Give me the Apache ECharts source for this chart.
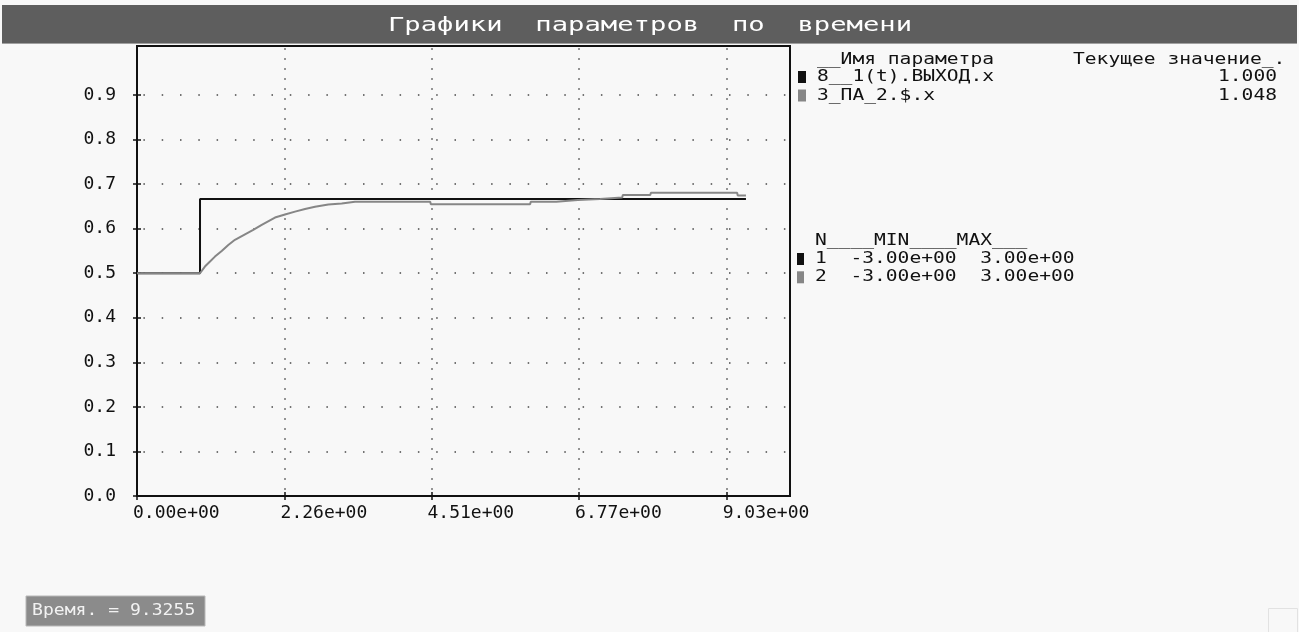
<!DOCTYPE html>
<html>
<head>
<meta charset="utf-8">
<script src="https://cdn.jsdelivr.net/npm/echarts@6/dist/echarts.min.js"></script>
<style>
  html, body { margin: 0; padding: 0; background: #f8f8f8; }
  #chart { width: 1299px; height: 632px; }
</style>
</head>
<body>
<div id="chart"></div>
<script>
// Tick positions on both axes
const timeTicks = [0, 2.26, 4.51, 6.77, 9.03];
const valueTicks = [0, 0.1, 0.2, 0.3, 0.4, 0.5, 0.6, 0.7, 0.8, 0.9];

// Parameter table
const paramNames = ['8__1(t).ВЫХОД.x', '3_ПА_2.$.x'];
const currentValues = [1.000, 1.048];
const rangeMin = [-3, -3];
const rangeMax = [3, 3];
const endTime = 9.3255;

// 8__1(t).ВЫХОД.x : unit step
const outTime  = [0, 0.965, 0.965, 9.3255];
const outValue = [0, 0,     1,     1];

// 3_ПА_2.$.x : response to the step
const paTime  = [0, 0.965, 1.04, 1.118, 1.194, 1.297, 1.398, 1.50, 1.654, 1.78, 1.91, 2.113, 2.266, 2.42,
                 2.573, 2.726, 2.93, 3.135, 3.338, 4.49, 4.50, 6.02, 6.03, 6.42, 6.43, 6.75, 6.76,
                 7.09, 7.10, 7.43, 7.44, 7.86, 7.87, 9.19, 9.20, 9.3255];
const paValue = [0, 0, 0.09, 0.157, 0.224, 0.30, 0.38, 0.45, 0.524, 0.583, 0.65, 0.75, 0.79, 0.83,
                 0.866, 0.896, 0.927, 0.94, 0.964, 0.964, 0.929, 0.929, 0.964, 0.964, 0.987, 0.987, 1.0,
                 1.0, 1.02, 1.02, 1.054, 1.054, 1.085, 1.085, 1.048, 1.048];

const MONO = '"DejaVu Sans Mono", "Liberation Mono", monospace';

// number in the form 2.26e+00
function sci(v) {
  const s = Number(v).toExponential(2);
  const i = s.indexOf('e');
  const exp = s.slice(i + 1);
  const sign = exp[0] === '-' ? '-' : '+';
  return s.slice(0, i) + 'e' + sign + exp.replace(/^[+-]/, '').padStart(2, '0');
}

// each parameter is drawn scaled into its [MIN, MAX] range
function normalize(times, values, k) {
  const span = rangeMax[k] - rangeMin[k];
  return times.map((t, i) => [t, (values[i] - rangeMin[k]) / span]);
}

const lineColors = ['#111111', '#868686'];

function label(x, y, text, opts) {
  opts = opts || {};
  return {
    type: 'text', x: x, y: y, scaleX: opts.scaleX || 1.225, z: 10, silent: true,
    style: {
      text: text,
      font: opts.font || ('16px ' + MONO),
      fill: opts.fill || '#111',
      align: opts.align || 'left', textAlign: opts.align || 'left',
      verticalAlign: 'middle', textVerticalAlign: 'middle'
    }
  };
}

const graphics = [
  // title bar
  { type: 'rect', shape: { x: 2, y: 5, width: 1295, height: 39 }, style: { fill: '#5e5e5e' }, z: 5, silent: true },
  { type: 'rect', shape: { x: 2, y: 43, width: 1295, height: 1 }, style: { fill: '#a0a0a0' }, z: 5, silent: true },
  label(650, 26, 'Графики  параметров  по  времени',
        { font: '20px ' + MONO, fill: '#ffffff', align: 'center', scaleX: 1.36 }),

  // current values table
  label(817, 60, '__Имя параметра'),
  label(1073, 60, 'Текущее значение_.'),

  // min / max table
  label(815, 241, 'N____MIN____MAX___'),

  // time readout
  { type: 'rect', shape: { x: 26, y: 596, width: 179, height: 30 },
    style: { fill: '#8b8b8b', stroke: '#b8b8b8', lineWidth: 1 }, z: 5, silent: true },
  label(32, 611, 'Время. = ' + endTime.toFixed(4), { fill: '#f2f2f2', scaleX: 1.13 }),

  { type: 'rect', shape: { x: 1268.5, y: 608.5, width: 29, height: 24 },
    style: { fill: 'none', stroke: '#e2e2e2', lineWidth: 1 }, z: 5, silent: true }
];

paramNames.forEach((name, k) => {
  const y1 = 77 + k * 18.5;
  graphics.push({ type: 'rect', shape: { x: 798, y: y1 - 6, width: 8, height: 12 },
                  style: { fill: lineColors[k] }, z: 10, silent: true });
  graphics.push(label(817, y1, name));
  graphics.push(label(1277, y1, currentValues[k].toFixed(3), { align: 'right' }));

  const y2 = 259 + k * 18.3;
  graphics.push({ type: 'rect', shape: { x: 797, y: y2 - 6, width: 7, height: 12 },
                  style: { fill: lineColors[k] }, z: 10, silent: true });
  graphics.push(label(815, y2, (k + 1) + '  ' + sci(rangeMin[k]) + '  ' + sci(rangeMax[k])));
});

const axisLineStyle = { color: '#111', width: 2 };
const tickStyle = { color: '#111', width: 1.5 };

const chart = echarts.init(document.getElementById('chart'), null, { renderer: 'canvas' });
chart.setOption({
  animation: false,
  backgroundColor: '#f8f8f8',
  grid: {
    left: 137, top: 46, width: 653, height: 450,
    show: true, borderColor: '#111', borderWidth: 2, backgroundColor: 'transparent',
    containLabel: false, outerBoundsMode: 'none'
  },
  xAxis: [
    {
      type: 'value', min: 0, max: 10.0, position: 'bottom',
      axisLine: { show: true, lineStyle: axisLineStyle },
      axisTick: { show: true, customValues: timeTicks, length: 4, lineStyle: tickStyle },
      axisLabel: {
        show: true, customValues: timeTicks, formatter: sci, margin: 8, align: 'left',
        color: '#111', fontFamily: MONO, fontSize: 18, padding: [0, 0, 0, -4]
      },
      splitLine: { show: true, lineStyle: { color: '#474747', width: 1.5, type: [1.5, 8.5], dashOffset: 7.7 } }
    },
    {
      type: 'value', min: 0, max: 10.0, position: 'bottom',
      axisLine: { show: false },
      axisTick: { show: true, inside: true, customValues: timeTicks, length: 4, lineStyle: tickStyle },
      axisLabel: { show: false },
      splitLine: { show: false }
    }
  ],
  yAxis: [
    {
      type: 'value', min: 0, max: 1.01, position: 'left',
      axisLine: { show: true, lineStyle: axisLineStyle },
      axisTick: { show: true, customValues: valueTicks, length: 4, lineStyle: tickStyle },
      axisLabel: {
        show: true, customValues: valueTicks, formatter: v => v.toFixed(1), margin: 21,
        color: '#111', fontFamily: MONO, fontSize: 18
      },
      splitLine: { show: true, lineStyle: { color: '#474747', width: 1.5, type: [1.5, 16.8], dashOffset: 11.9 } }
    },
    {
      type: 'value', min: 0, max: 1.01, position: 'left',
      axisLine: { show: false },
      axisTick: { show: true, inside: true, customValues: valueTicks, length: 4, lineStyle: tickStyle },
      axisLabel: { show: false },
      splitLine: { show: false }
    }
  ],
  series: [
    {
      name: paramNames[0], type: 'line', data: normalize(outTime, outValue, 0),
      xAxisIndex: 0, yAxisIndex: 0, showSymbol: false, silent: true, z: 3,
      lineStyle: { color: lineColors[0], width: 2 }, itemStyle: { color: lineColors[0] }
    },
    {
      name: paramNames[1], type: 'line', data: normalize(paTime, paValue, 1),
      xAxisIndex: 0, yAxisIndex: 0, showSymbol: false, silent: true, z: 4,
      lineStyle: { color: lineColors[1], width: 2 }, itemStyle: { color: lineColors[1] }
    }
  ],
  graphic: graphics
});
</script>
</body>
</html>
